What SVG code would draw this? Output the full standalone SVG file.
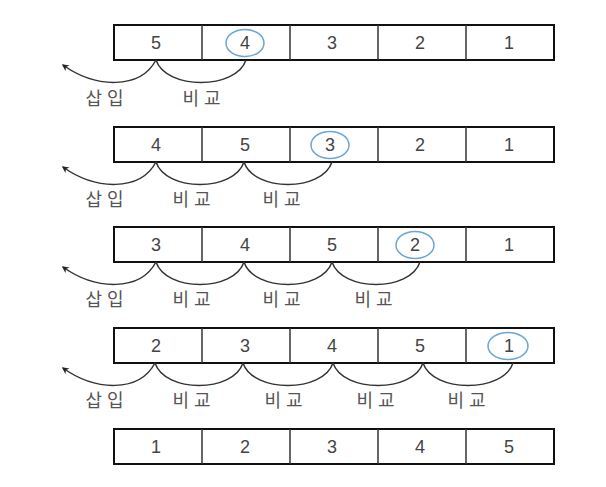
<svg xmlns="http://www.w3.org/2000/svg" width="606" height="487" viewBox="0 0 606 487">
<style>
.box{fill:#fff;stroke:#111;stroke-width:2}
.div{stroke:#333;stroke-width:1.5}
.num{font-family:"Liberation Sans","DejaVu Sans",sans-serif;font-size:18px;fill:#444;text-anchor:middle}
.lbl{font-family:"Noto Sans CJK KR",sans-serif;font-size:18px;fill:#555;text-anchor:middle;letter-spacing:5px}
.circ{fill:none;stroke:#6aa6d6;stroke-width:1.5}
.arc{fill:none;stroke:#333;stroke-width:1.5}
</style>
<defs>
<marker id="ah" viewBox="0 0 10 10" refX="8" refY="5" markerWidth="7" markerHeight="7" orient="auto" markerUnits="userSpaceOnUse">
<path d="M0,0 L10,5 L0,10 L3,5 Z" fill="#222"/>
</marker>
<g id="cells">
<rect class="box" x="114" y="0" width="440" height="35"/>
<line class="div" x1="202" y1="0" x2="202" y2="35"/>
<line class="div" x1="290" y1="0" x2="290" y2="35"/>
<line class="div" x1="378" y1="0" x2="378" y2="35"/>
<line class="div" x1="466" y1="0" x2="466" y2="35"/>
</g>
</defs>
<rect width="606" height="487" fill="#fff"/>

<g id="row1" transform="translate(0,25)">
<use href="#cells"/>
<text class="num" x="156" y="24">5</text>
<text class="num" x="245" y="24">4</text>
<text class="num" x="332" y="24">3</text>
<text class="num" x="420" y="24">2</text>
<text class="num" x="509" y="24">1</text>
<ellipse class="circ" cx="245" cy="18" rx="19" ry="13.5"/>
</g>
<g id="row2" transform="translate(0,127)">
<use href="#cells"/>
<text class="num" x="156" y="24">4</text>
<text class="num" x="245" y="24">5</text>
<text class="num" x="330" y="24">3</text>
<text class="num" x="420" y="24">2</text>
<text class="num" x="509" y="24">1</text>
<ellipse class="circ" cx="330" cy="18" rx="19" ry="13.5"/>
</g>
<g id="row3" transform="translate(0,227)">
<use href="#cells"/>
<text class="num" x="156" y="24">3</text>
<text class="num" x="245" y="24">4</text>
<text class="num" x="332" y="24">5</text>
<text class="num" x="415" y="24">2</text>
<text class="num" x="509" y="24">1</text>
<ellipse class="circ" cx="415" cy="18" rx="19" ry="13.5"/>
</g>
<g id="row4" transform="translate(0,328)">
<use href="#cells"/>
<text class="num" x="156" y="24">2</text>
<text class="num" x="245" y="24">3</text>
<text class="num" x="332" y="24">4</text>
<text class="num" x="420" y="24">5</text>
<text class="num" x="509" y="24">1</text>
<ellipse class="circ" cx="508" cy="18" rx="20" ry="13.5"/>
</g>
<g id="row5" transform="translate(0,429)">
<use href="#cells"/>
<text class="num" x="156" y="24">1</text>
<text class="num" x="245" y="24">2</text>
<text class="num" x="332" y="24">3</text>
<text class="num" x="420" y="24">4</text>
<text class="num" x="509" y="24">5</text>
</g>

<g id="connectors">
<path class="arc" d="M156,60 C140,90 95,88 63,65" marker-end="url(#ah)"/>
<path class="arc" d="M156,60 C166,90 236,90 246,60"/>

<path class="arc" d="M156,162 C140,192 95,190 63,167" marker-end="url(#ah)"/>
<path class="arc" d="M156,162 C166,192 234,192 244,162"/>
<path class="arc" d="M244,162 C254,192 322,192 332,162"/>

<path class="arc" d="M156,262 C140,292 95,290 63,267" marker-end="url(#ah)"/>
<path class="arc" d="M156,262 C166,292 234,292 244,262"/>
<path class="arc" d="M244,262 C254,292 322,292 332,262"/>
<path class="arc" d="M332,262 C342,292 410,292 420,262"/>

<path class="arc" d="M155,363 C139,393 95,391 63,368" marker-end="url(#ah)"/>
<path class="arc" d="M155,363 C165,393 233,393 243,363"/>
<path class="arc" d="M243,363 C253,393 323,393 333,363"/>
<path class="arc" d="M333,363 C343,393 413,393 423,363"/>
<path class="arc" d="M423,363 C433,393 503,393 513,363"/>
</g>

<g id="labels">
<text class="lbl" x="107" y="105">삽입</text>
<text class="lbl" x="204" y="105">비교</text>

<text class="lbl" x="107" y="206">삽입</text>
<text class="lbl" x="194" y="206">비교</text>
<text class="lbl" x="284" y="206">비교</text>

<text class="lbl" x="107" y="306">삽입</text>
<text class="lbl" x="194" y="306">비교</text>
<text class="lbl" x="284" y="306">비교</text>
<text class="lbl" x="376" y="306">비교</text>

<text class="lbl" x="107" y="407">삽입</text>
<text class="lbl" x="194" y="407">비교</text>
<text class="lbl" x="286" y="407">비교</text>
<text class="lbl" x="378" y="407">비교</text>
<text class="lbl" x="469" y="407">비교</text>
</g>
</svg>
